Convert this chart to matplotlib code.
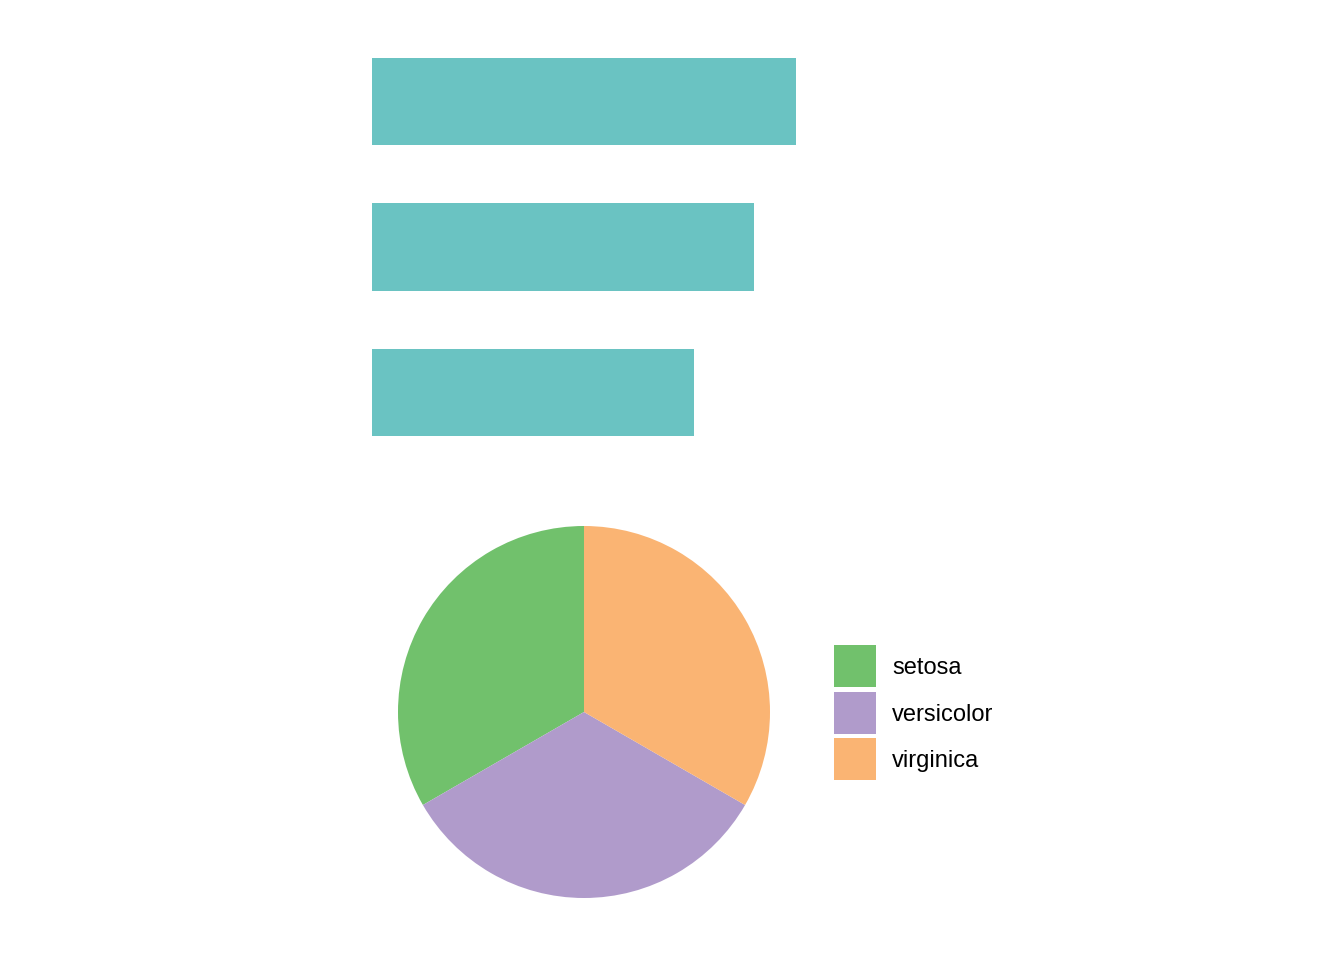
import matplotlib.pyplot as plt
from matplotlib.patches import Rectangle

plt.rcParams['font.family'] = ['Liberation Sans', 'DejaVu Sans']

# data: mean sepal length by species (iris), and counts per species
species = ["setosa", "versicolor", "virginica"]
mean_sepal_length = [5.006, 5.936, 6.588]
counts = [50, 50, 50]

bar_color = "#6AC3C2"
pie_colors = ["#71C16C", "#B09BCB", "#FAB473"]

W, H = 1344, 960
fig = plt.figure(figsize=(W / 100, H / 100), dpi=100)

# bar panel
ax_bar = fig.add_axes([372 / W, 1 - 480 / H, 450 / W, 466 / H])
ax_bar.barh(range(3), mean_sepal_length, height=0.6, color=bar_color)
ax_bar.set_xlim(0, 7.0)
ax_bar.set_ylim(-0.6, 2.6)
ax_bar.axis("off")

# pie panel
ax_pie = fig.add_axes([398 / W, 62 / H, 372 / W, 372 / H])
ax_pie.pie(counts, colors=pie_colors, startangle=90, counterclock=True,
           radius=1, wedgeprops=dict(linewidth=0))
ax_pie.set_xlim(-1, 1)
ax_pie.set_ylim(-1, 1)
ax_pie.set_aspect("equal")
ax_pie.axis("off")

# legend, drawn by hand (pixel layout)
key = 42
step = 46.5
for i, (name, c) in enumerate(zip(species, pie_colors)):
    top = 645 + i * step
    fig.add_artist(Rectangle((834 / W, 1 - (top + key) / H), key / W, key / H,
                             transform=fig.transFigure, facecolor=c,
                             edgecolor="none"))
    fig.text(892 / W, 1 - (top + key / 2) / H, name, fontsize=17,
             va="center_baseline", ha="left")

fig.savefig("out.png", dpi=100)
